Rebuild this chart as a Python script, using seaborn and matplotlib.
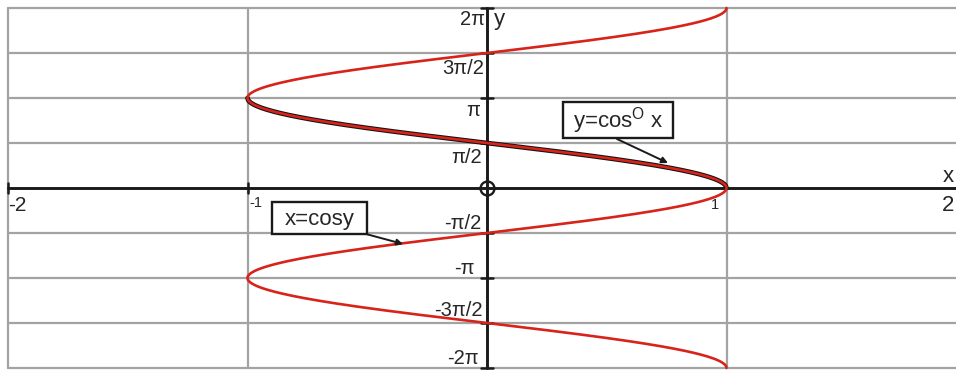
import numpy as np
import pandas as pd
import seaborn as sns
import matplotlib.pyplot as plt
from matplotlib.patches import Rectangle

sns.set_style('white')
plt.rcParams['font.family'] = ['Liberation Sans', 'DejaVu Sans']
plt.rcParams['mathtext.fontset'] = 'custom'
plt.rcParams['mathtext.rm'] = 'Liberation Sans'

PI = np.pi

# grid / ticks
x_grid = [-2, -1, 1]
y_grid = [k * PI / 2 for k in range(-4, 5) if k != 0]
y_ticks = [k * PI / 2 for k in range(-4, 5)]
y_labels = ['-2π', '-3π/2', '-π', '-π/2', '', 'π/2', 'π', '3π/2', '2π']
x_tick_pos = [-2, -1, 1, 2]
x_tick_labels = ['-2', '-1', '1', '2']

# curves: x = cos y on [-2π, 2π] and y = arccos x on [-1, 1]
y_red = np.linspace(-2 * PI, 2 * PI, 800)
red = pd.DataFrame({'x': np.cos(y_red), 'y': y_red})
x_blk = np.linspace(-1, 1, 600)
black = pd.DataFrame({'x': x_blk, 'y': np.arccos(x_blk)})

# pixel -> data helpers (figure is 956x371 with axes filling it)
x0, sx = 487, 239.5
y0, sy = 188, 90 / PI
def dx(px):
    return (px - x0) / sx
def dy(py):
    return (y0 - py) / sy

fig = plt.figure(figsize=(9.56, 3.71), dpi=100)
ax = fig.add_axes([0, 0, 1, 1])

grid_c = '#a3a3a3'
for gx in x_grid:
    ax.plot([gx, gx], [-2 * PI, 2 * PI], color=grid_c, lw=1.6, zorder=1)
for gy in y_grid:
    ax.plot([-2, dx(956)], [gy, gy], color=grid_c, lw=1.6, zorder=1)

# axes
ax.plot([-2, dx(956)], [0, 0], color='#1a1a1a', lw=2.1, zorder=3)
ax.plot([0, 0], [-2 * PI, 2 * PI], color='#1a1a1a', lw=2.1, zorder=3)
tk = 6 / sx
for yt in y_ticks:
    if yt != 0:
        ax.plot([-tk, tk], [yt, yt], color='#1a1a1a', lw=1.8, zorder=3)
for xt in [-2, -1]:
    ax.plot([xt, xt], [-5 / sy, 5 / sy], color='#1a1a1a', lw=1.8, zorder=3)
ax.plot([0], [0], marker='o', ms=10, mfc='none', mec='#1a1a1a', mew=1.7, zorder=5)

# curves
sns.lineplot(data=black, x='x', y='y', sort=False, estimator=None,
             color='#111111', lw=3.4, ax=ax, zorder=6)
sns.lineplot(data=red, x='x', y='y', sort=False, estimator=None,
             color='#d8231b', lw=1.9, ax=ax, zorder=7)
ax.set_xlim(dx(0), dx(956))
ax.set_ylim(dy(371), dy(0))
ax.axis('off')

# y tick labels
y_lab_px = {'2π': (485, 19), '3π/2': (484, 68), 'π': (480, 110), 'π/2': (482, 157),
            '-π/2': (481, 223), '-π': (475, 268), '-3π/2': (483, 311), '-2π': (479, 359)}
for lab in y_labels:
    if lab:
        px, py = y_lab_px[lab]
        ax.text(dx(px), dy(py), lab, ha='right', va='center', fontsize=14.5, zorder=8)
ax.text(dx(494), dy(19), 'y', ha='left', va='center', fontsize=16, zorder=8)

# x tick labels
ax.text(dx(8), dy(205), x_tick_labels[0], ha='left', va='center', fontsize=15)
ax.text(dx(249), dy(203), x_tick_labels[1], ha='left', va='center', fontsize=10.5)
ax.text(dx(719), dy(205), x_tick_labels[2], ha='right', va='center', fontsize=10.5)
ax.text(dx(954), dy(205), x_tick_labels[3], ha='right', va='center', fontsize=16)
ax.text(dx(954), dy(176), 'x', ha='right', va='center', fontsize=16)

# callout boxes
def callout(l, t, r, b, text, a_from, a_to):
    ax.add_patch(Rectangle((dx(l), dy(b)), dx(r) - dx(l), dy(t) - dy(b),
                           facecolor='white', edgecolor='#1a1a1a', lw=1.7, zorder=9))
    ax.text(dx((l + r) / 2), dy((t + b) / 2 + 1), text, ha='center', va='center',
            fontsize=16, zorder=10)
    ax.annotate('', xy=(dx(a_to[0]), dy(a_to[1])), xytext=(dx(a_from[0]), dy(a_from[1])),
                arrowprops=dict(arrowstyle='-|>', color='#1a1a1a', lw=1.4,
                                mutation_scale=9, shrinkA=0, shrinkB=0), zorder=9)

callout(563, 102, 673, 138, 'y=cos$^{\\mathrm{O}}$ x', (617, 139), (668, 163))
callout(272, 202, 367, 234, 'x=cosy', (366, 234), (403, 244))

fig.savefig('out.png', dpi=100, facecolor='white')
